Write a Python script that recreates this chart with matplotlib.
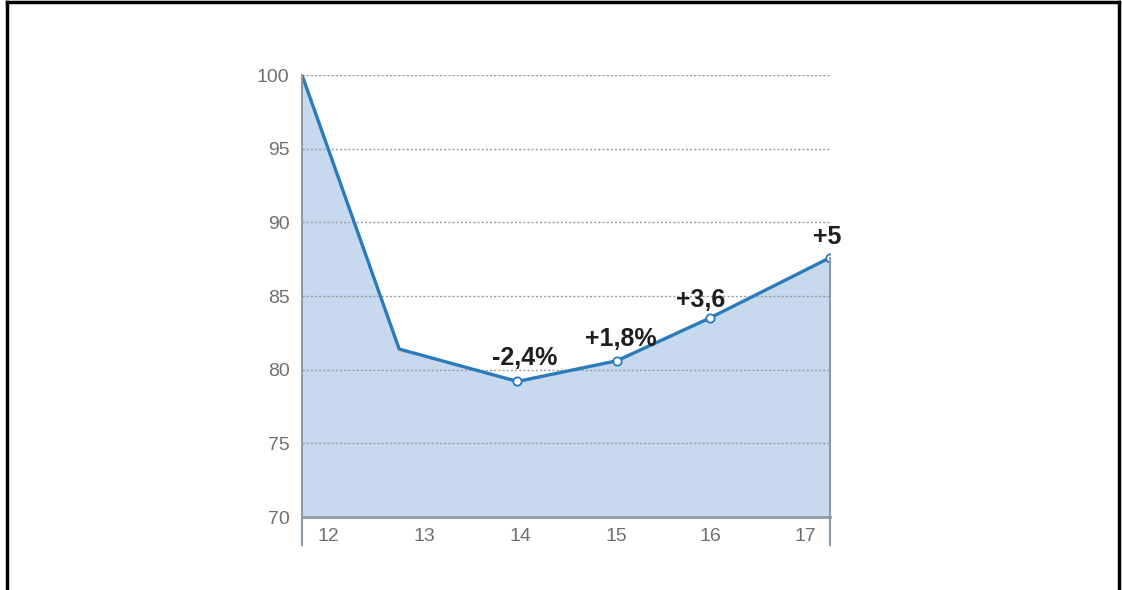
import matplotlib.pyplot as plt
from matplotlib import font_manager
from matplotlib.lines import Line2D

# index values (12 = 100)
point_x = [12.0, 12.92, 14.04, 14.98, 15.86, 17.0]
values = [100.0, 81.4, 79.2, 80.6, 83.5, 87.6]
marked = [False, False, True, True, True, True]
notes = ["", "", "-2,4%", "+1,8%", "+3,6", "+5"]

tick_labels = ["12", "13", "14", "15", "16", "17"]
tick_pos = [12.25, 13.16, 14.07, 14.98, 15.87, 16.77]
yticks = [70, 75, 80, 85, 90, 95, 100]

BLUE = "#2b7bbb"
FILL = "#c6d9ef"
GREY = "#707070"

names = {f.name for f in font_manager.fontManager.ttflist}
FONT = "Liberation Sans Narrow" if "Liberation Sans Narrow" in names else "Liberation Sans"

fig = plt.figure(figsize=(11.22, 5.9), dpi=100)
ax = fig.add_axes([302 / 1122, 1 - 517 / 590, 528 / 1122, 442 / 590])

ax.fill_between(point_x, values, 70, color=FILL, zorder=1, lw=0)
for y in yticks[1:]:
    ax.axhline(y, color="#9a9a9a", lw=1.0, ls=(0, (1.5, 1.5)), zorder=2)
ax.plot(point_x, values, color=BLUE, lw=2.4, zorder=3, solid_joinstyle="round")
mx = [x for x, m in zip(point_x, marked) if m]
my = [v for v, m in zip(values, marked) if m]
ax.plot(mx, my, "o", ms=6, mfc="white", mec=BLUE, mew=1.3, zorder=4)

offsets = {2: (0.07, 1.1), 3: (0.04, 1.0), 4: (-0.085, 0.75), 5: (-0.03, 0.95)}
for i, txt in enumerate(notes):
    if not txt:
        continue
    dx, dy = offsets[i]
    ax.text(point_x[i] + dx, values[i] + dy, txt, ha="center", va="baseline",
            fontsize=18, fontweight="bold", color="#1e1e1e", family=FONT, zorder=5)

ax.set_xlim(12, 17)
ax.set_ylim(70, 100)
ax.set_yticks(yticks)
ax.set_yticklabels([str(t) for t in yticks], family=FONT, fontsize=14, color=GREY)
ax.set_xticks(tick_pos)
ax.set_xticklabels(tick_labels, family=FONT, fontsize=14, color=GREY)
ax.tick_params(axis="both", length=0)
ax.tick_params(axis="y", pad=9)
ax.tick_params(axis="x", pad=8)

for s in ["top", "right", "left"]:
    ax.spines[s].set_visible(False)
ax.spines["bottom"].set_color("#8d9aa8")
ax.spines["bottom"].set_linewidth(2)
ax.spines["bottom"].set_zorder(6)

# vertical edge lines running below the axis
for xa in [0, 1]:
    ax.add_line(Line2D([xa, xa], [-0.063, 1 if xa == 0 else (values[-1] - 70) / 30],
                       transform=ax.transAxes, color="#8d9aa8", lw=1.5,
                       clip_on=False, zorder=6))

# frame around the picture (left, top, right)
for xs, ys in [([7 / 1122, 7 / 1122], [0, 1 - 2 / 590]),
               ([7 / 1122, 1119 / 1122], [1 - 2 / 590, 1 - 2 / 590]),
               ([1119 / 1122, 1119 / 1122], [0, 1 - 2 / 590])]:
    fig.add_artist(Line2D(xs, ys, transform=fig.transFigure, color="black", lw=2.5))

fig.savefig("out.png", dpi=100)
